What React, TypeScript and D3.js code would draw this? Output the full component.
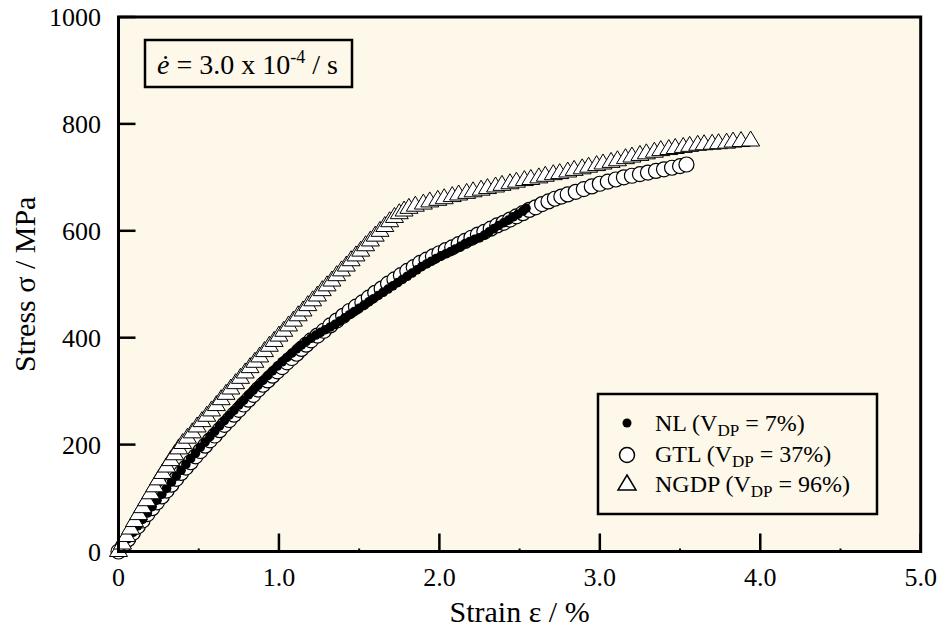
import React from "react";
import * as d3 from "d3";

// ---- data (strain %, stress MPa) ----
const NL: [number, number][] = [
  [0.0, 0], [0.03, 12], [0.06, 24], [0.09, 36], [0.12, 48], [0.15, 60], [0.18, 72], [0.21, 84],
  [0.24, 96], [0.27, 107], [0.3, 118], [0.33, 130], [0.36, 141], [0.39, 152], [0.42, 163], [0.45, 174],
  [0.48, 184], [0.51, 195], [0.54, 205], [0.57, 215], [0.6, 225], [0.63, 235], [0.66, 245], [0.69, 255],
  [0.72, 264], [0.75, 274], [0.78, 283], [0.81, 293], [0.84, 302], [0.87, 311], [0.9, 320], [0.93, 329],
  [0.96, 338], [0.99, 347], [1.02, 355], [1.05, 363], [1.08, 371], [1.11, 379], [1.14, 386], [1.17, 393],
  [1.2, 399], [1.23, 405], [1.26, 410], [1.29, 415], [1.32, 420], [1.35, 425], [1.38, 431], [1.41, 437],
  [1.44, 443], [1.47, 449], [1.5, 455], [1.53, 461], [1.56, 467], [1.59, 473], [1.62, 479], [1.65, 485],
  [1.68, 491], [1.71, 497], [1.74, 503], [1.77, 509], [1.8, 515], [1.83, 521], [1.86, 527], [1.89, 533],
  [1.92, 538], [1.95, 543], [1.98, 548], [2.01, 553], [2.04, 557], [2.07, 561], [2.1, 566], [2.13, 571],
  [2.16, 576], [2.19, 580], [2.22, 584], [2.25, 587], [2.28, 592], [2.31, 598], [2.34, 604], [2.37, 610],
  [2.4, 615], [2.43, 620], [2.46, 626], [2.49, 631], [2.52, 637], [2.54, 642],
];

const GTL: [number, number][] = [
  [0.0, 0], [0.03, 11], [0.06, 23], [0.09, 35], [0.12, 47], [0.15, 58], [0.18, 70], [0.21, 81],
  [0.24, 92], [0.27, 103], [0.3, 114], [0.33, 125], [0.36, 136], [0.39, 147], [0.42, 157], [0.45, 167],
  [0.48, 178], [0.51, 188], [0.54, 198], [0.57, 208], [0.6, 217], [0.63, 227], [0.66, 237], [0.69, 246],
  [0.72, 256], [0.75, 265], [0.78, 275], [0.81, 284], [0.84, 293], [0.87, 303], [0.9, 312], [0.93, 320],
  [0.96, 329], [0.99, 337], [1.02, 345], [1.05, 354], [1.08, 362], [1.11, 370], [1.14, 379], [1.17, 387],
  [1.2, 395], [1.24, 404], [1.28, 413], [1.32, 423], [1.36, 432], [1.4, 441], [1.44, 450], [1.48, 458],
  [1.52, 466], [1.56, 475], [1.6, 484], [1.64, 492], [1.68, 501], [1.72, 509], [1.76, 517], [1.8, 525],
  [1.84, 532], [1.88, 540], [1.92, 546], [1.96, 552], [2.0, 558], [2.04, 564], [2.08, 569], [2.12, 575],
  [2.16, 581], [2.2, 587], [2.24, 593], [2.28, 598], [2.32, 604], [2.36, 610], [2.4, 615], [2.44, 621],
  [2.48, 627], [2.52, 633], [2.56, 639], [2.6, 644], [2.64, 650], [2.68, 655], [2.72, 660], [2.76, 664],
  [2.8, 668], [2.85, 673], [2.9, 678], [2.95, 683], [3.0, 688], [3.05, 692], [3.1, 696], [3.15, 700],
  [3.2, 703], [3.25, 706], [3.3, 709], [3.35, 712], [3.4, 715], [3.45, 718], [3.5, 721], [3.54, 724],
];

const NGDP: [number, number][] = [
  [0.0, 0], [0.025, 14], [0.05, 28], [0.075, 42], [0.1, 56], [0.125, 69], [0.15, 82], [0.175, 95],
  [0.2, 108], [0.225, 121], [0.25, 134], [0.275, 146], [0.3, 158], [0.325, 170], [0.35, 181], [0.375, 192],
  [0.4, 202], [0.43, 212], [0.46, 222], [0.49, 233], [0.52, 243], [0.55, 253], [0.58, 263], [0.61, 273],
  [0.64, 284], [0.67, 294], [0.7, 304], [0.73, 314], [0.76, 324], [0.79, 334], [0.82, 344], [0.85, 354],
  [0.88, 364], [0.91, 374], [0.94, 384], [0.97, 393], [1.0, 403], [1.03, 412], [1.06, 422], [1.09, 431],
  [1.12, 441], [1.15, 450], [1.18, 460], [1.21, 469], [1.24, 478], [1.27, 488], [1.3, 497], [1.33, 506],
  [1.36, 516], [1.39, 525], [1.42, 534], [1.45, 544], [1.48, 553], [1.51, 562], [1.54, 572], [1.57, 581],
  [1.6, 590], [1.63, 599], [1.66, 608], [1.69, 617], [1.72, 625], [1.75, 632], [1.78, 637], [1.81, 642],
  [1.85, 646], [1.9, 650], [1.94, 654], [1.99, 657], [2.03, 660], [2.08, 664], [2.12, 667], [2.17, 670],
  [2.21, 673], [2.26, 676], [2.3, 679], [2.35, 682], [2.39, 685], [2.44, 688], [2.48, 691], [2.53, 694],
  [2.57, 696], [2.62, 699], [2.66, 702], [2.71, 705], [2.75, 707], [2.8, 710], [2.84, 713], [2.89, 716],
  [2.93, 719], [2.98, 722], [3.02, 725], [3.07, 728], [3.11, 731], [3.16, 735], [3.2, 738], [3.25, 741],
  [3.29, 744], [3.34, 747], [3.38, 750], [3.43, 752], [3.47, 754], [3.52, 756], [3.56, 758], [3.61, 760],
  [3.65, 761], [3.7, 762], [3.74, 763], [3.79, 764], [3.83, 766], [3.88, 767], [3.94, 768],
];

const X_TICKS = [0, 1, 2, 3, 4, 5];
const X_TICK_LABELS = ["0", "1.0", "2.0", "3.0", "4.0", "5.0"];
const X_MINOR = [0.5, 1.5, 2.5, 3.5, 4.5];
const Y_TICKS = [0, 200, 400, 600, 800, 1000];

const LEGEND = [
  { name: "NL", v: "7%" },
  { name: "GTL", v: "37%" },
  { name: "NGDP", v: "96%" },
];

const W = 943;
const H = 632;
const M = { left: 118.5, right: 920.7, top: 17, bottom: 551.5 };
const FONT = '"Liberation Serif", "Times New Roman", serif';
const BG = "#fdf8e9";

const tri = (cx: number, cy: number, s = 1) =>
  `M${cx},${cy - 10 * s}L${cx + 9 * s},${cy + 5 * s}L${cx - 9 * s},${cy + 5 * s}Z`;

export default function App() {
  const x = d3.scaleLinear().domain([0, 5]).range([M.left, M.right]);
  const y = d3.scaleLinear().domain([0, 1000]).range([M.bottom, M.top]);
  const line = d3
    .line<[number, number]>()
    .x((d) => x(d[0]))
    .y((d) => y(d[1]));

  const lx = 627;
  const ly = [423, 455, 485];
  const tb = [431, 462, 492];

  return (
    <svg
      width={W}
      height={H}
      style={{ position: "absolute", left: 0, top: 0, display: "block", background: "#fff", fontFamily: FONT }}
    >
      <rect x={M.left} y={M.top} width={M.right - M.left} height={M.bottom - M.top} fill={BG} />

      {/* GTL circles */}
      <g>
        {GTL.map((d, i) => (
          <circle key={i} cx={x(d[0])} cy={y(d[1])} r={7.5} fill="#fff" stroke="#000" strokeWidth={1.2} />
        ))}
      </g>
      {/* NL dots */}
      <g>
        {NL.map((d, i) => (
          <circle key={i} cx={x(d[0])} cy={y(d[1])} r={4.8} fill="#000" />
        ))}
      </g>
      {/* NGDP line + triangles */}
      <path d={line(NGDP) || ""} fill="none" stroke="#999" strokeWidth={1.5} transform="translate(-5,5)" />
      <g>
        {NGDP.map((d, i) => (
          <path key={i} d={tri(x(d[0]), y(d[1]))} fill="#fff" stroke="#000" strokeWidth={1} />
        ))}
      </g>

      {/* ticks */}
      {X_TICKS.map((t) => (
        <line key={"xt" + t} x1={x(t)} x2={x(t)} y1={M.bottom} y2={M.bottom - 18} stroke="#000" strokeWidth={2.5} />
      ))}
      {X_MINOR.map((t) => (
        <line key={"xm" + t} x1={x(t)} x2={x(t)} y1={M.bottom} y2={M.bottom - 3} stroke="#000" strokeWidth={2} />
      ))}
      {Y_TICKS.map((t) => (
        <line key={"yt" + t} x1={M.left} x2={M.left + 17} y1={y(t)} y2={y(t)} stroke="#000" strokeWidth={2.5} />
      ))}

      {/* frame */}
      <rect
        x={M.left}
        y={M.top}
        width={M.right - M.left}
        height={M.bottom - M.top}
        fill="none"
        stroke="#000"
        strokeWidth={3}
      />

      {/* tick labels */}
      {X_TICKS.map((t, i) => (
        <text key={"xl" + t} x={x(t)} y={586} fontSize={26} textAnchor="middle">
          {X_TICK_LABELS[i]}
        </text>
      ))}
      {Y_TICKS.map((t) => (
        <text key={"yl" + t} x={101} y={y(t) + 9} fontSize={26} textAnchor="end">
          {t}
        </text>
      ))}

      {/* axis titles */}
      <text x={(M.left + M.right) / 2} y={622} fontSize={30} textAnchor="middle">
        Strain ε / %
      </text>
      <text transform={`translate(35,${(M.top + M.bottom) / 2}) rotate(-90)`} fontSize={30} textAnchor="middle">
        Stress σ / MPa
      </text>

      {/* strain rate annotation */}
      <rect x={145} y={40} width={207} height={47} fill="none" stroke="#000" strokeWidth={2.5} />
      <text x={157} y={74} fontSize={28}>
        <tspan fontStyle="italic">ė</tspan>
        <tspan> = 3.0 x 10</tspan>
        <tspan dy={-11} fontSize={18}>-4</tspan>
        <tspan dy={11}> / s</tspan>
      </text>

      {/* legend */}
      <rect x={598} y={394} width={279} height={120} fill="none" stroke="#000" strokeWidth={2.5} />
      <circle cx={lx} cy={ly[0]} r={4.5} fill="#000" />
      <circle cx={lx} cy={ly[1]} r={7.5} fill="#fff" stroke="#000" strokeWidth={1.5} />
      <path d={tri(lx, ly[2])} fill="#fff" stroke="#000" strokeWidth={1.5} />
      {LEGEND.map((l, i) => (
        <text key={l.name} x={655} y={tb[i]} fontSize={24}>
          {l.name + " (V"}
          <tspan dy={5} fontSize={17}>DP</tspan>
          <tspan dy={-5}>{" = " + l.v + ")"}</tspan>
        </text>
      ))}
    </svg>
  );
}
